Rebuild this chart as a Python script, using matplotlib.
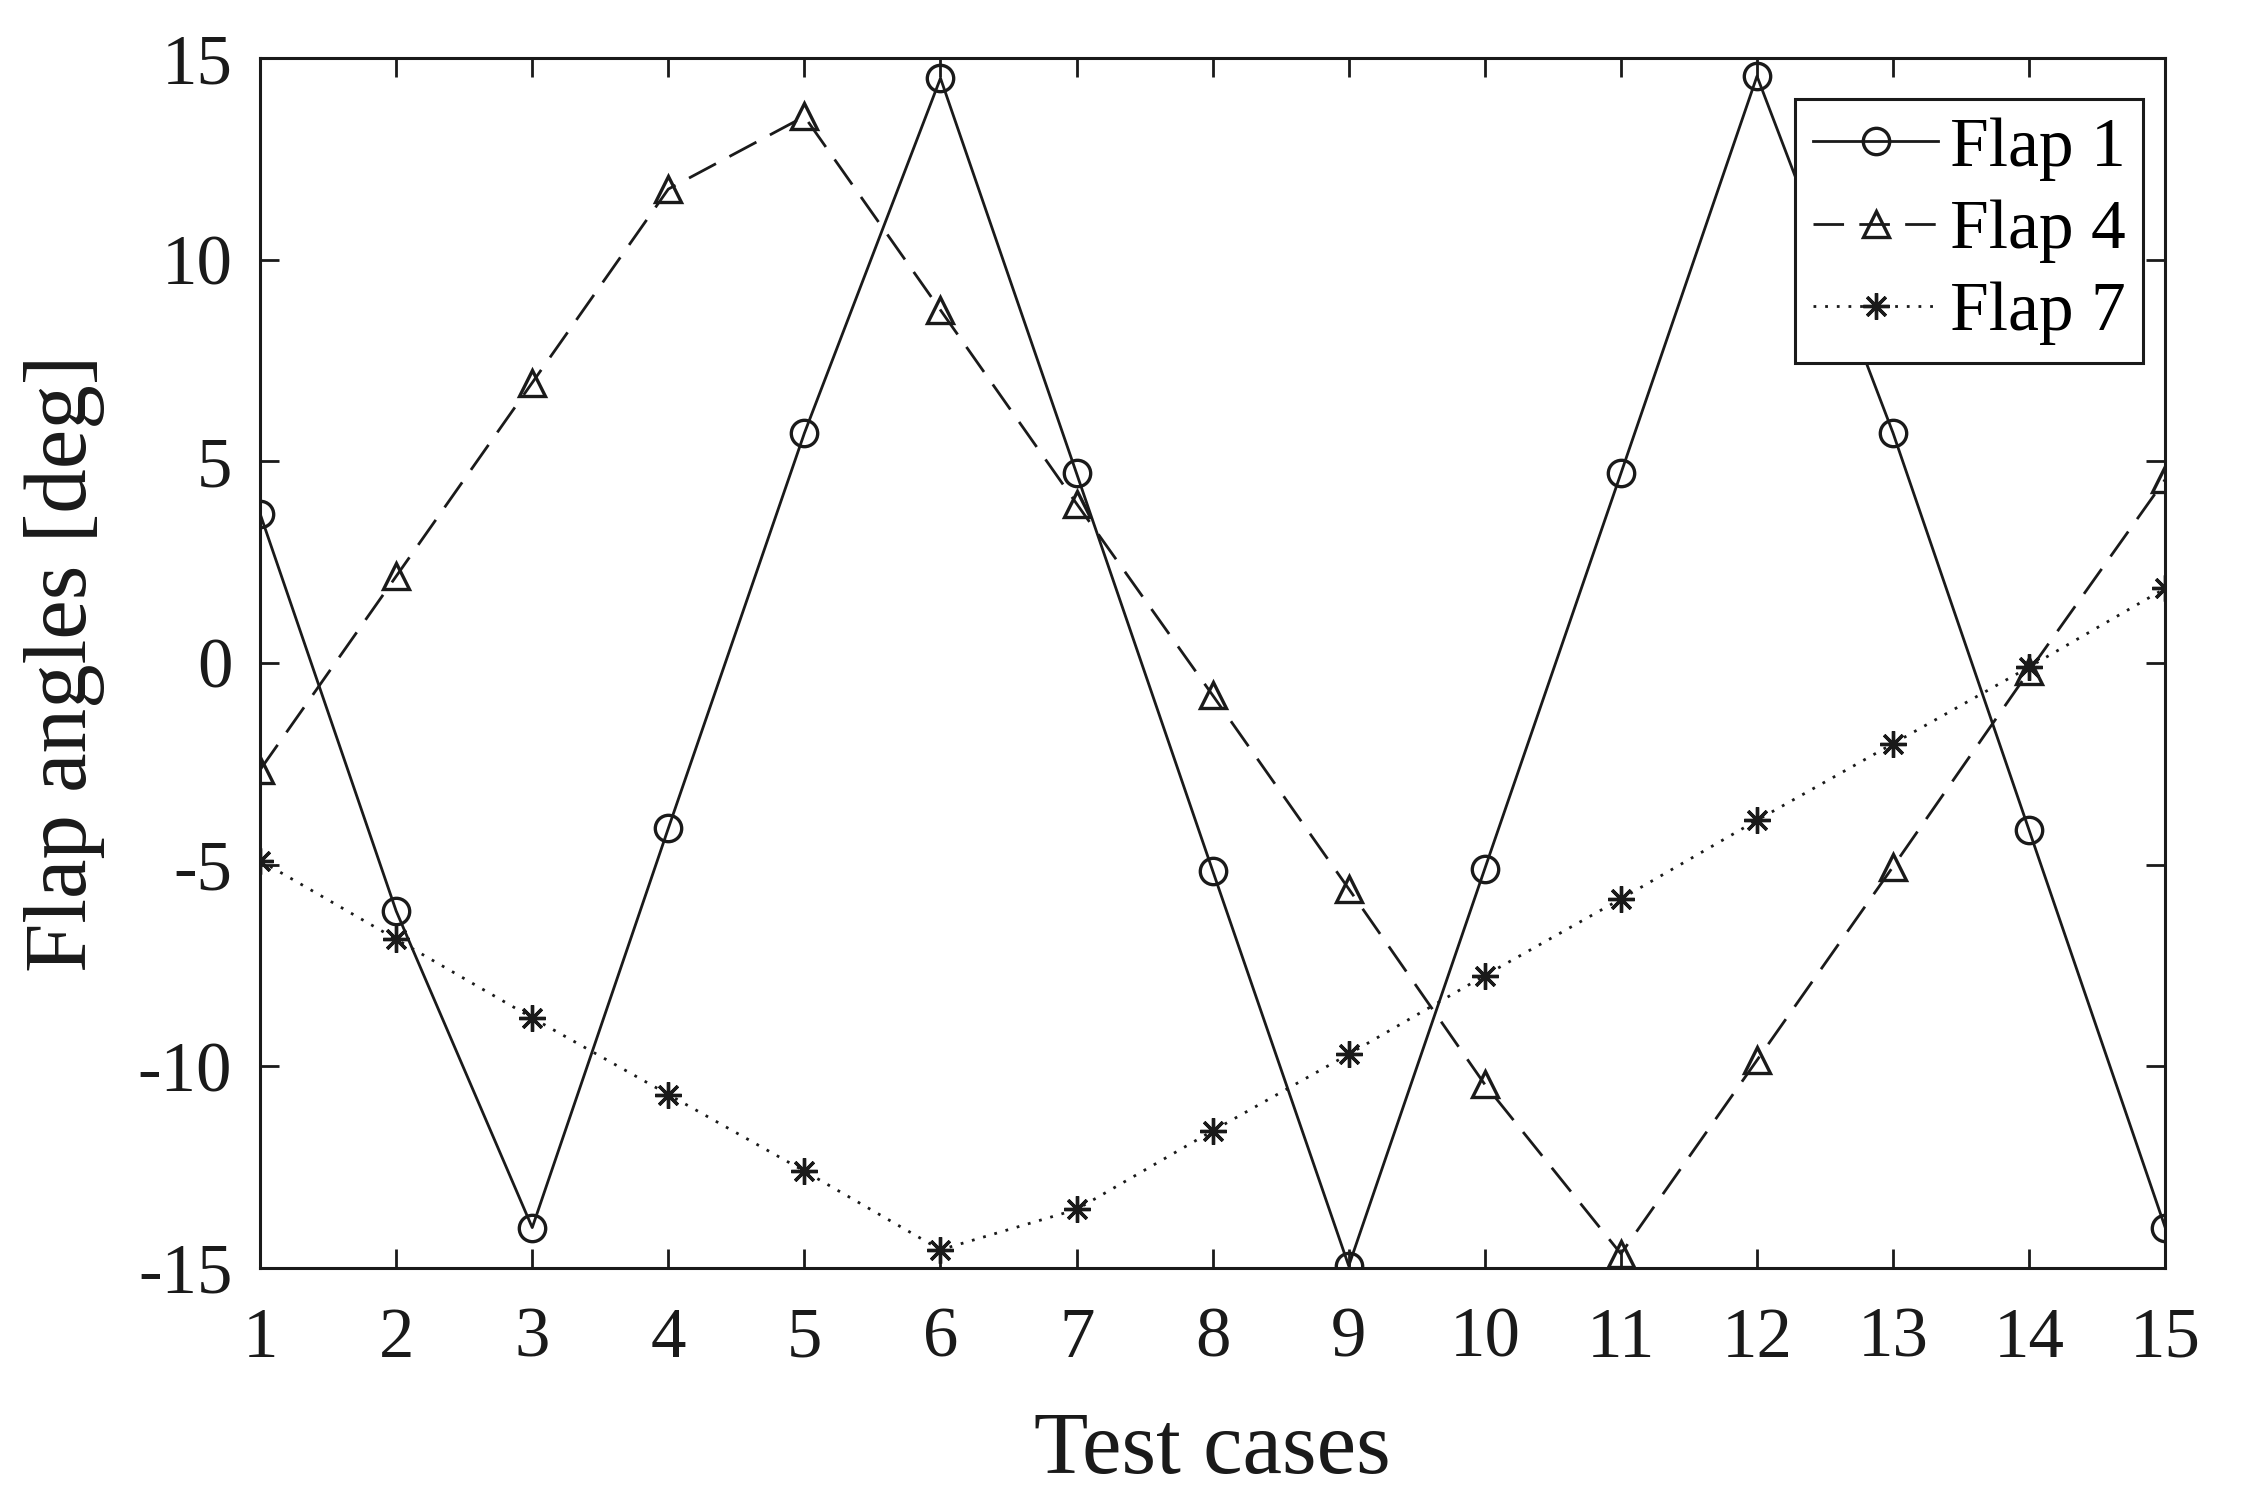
import matplotlib
matplotlib.use('Agg')
import matplotlib.pyplot as plt
import numpy as np

# test case numbers and flap angles [deg]
cases = np.arange(1, 16)
flap1 = [3.7, -6.15, -14.0, -4.1, 5.7, 14.5, 4.7, -5.15, -14.95, -5.1, 4.7, 14.55, 5.7, -4.15, -14.0]
flap4 = [-2.65, 2.15, 6.95, 11.75, 13.55, 8.75, 3.95, -0.8, -5.6, -10.45, -14.65, -9.85, -5.05, -0.2, 4.55]
flap7 = [-4.9, -6.85, -8.8, -10.7, -12.6, -14.55, -13.55, -11.6, -9.7, -7.75, -5.85, -3.9, -2.0, -0.1, 1.85]
tick_x = list(range(1, 16))
tick_y = [-15, -10, -5, 0, 5, 10, 15]

plt.rcParams['font.family'] = ['Liberation Serif', 'DejaVu Serif']
plt.rcParams['axes.linewidth'] = 2.2
plt.rcParams['axes.unicode_minus'] = False

fig = plt.figure(figsize=(22.44, 15.03), dpi=100)
ax = fig.add_axes([0.1159, 0.1564, 0.849, 0.805])

c = '#1a1a1a'
ms = 19
mew = 2.4
lw = 2.0
ax.plot(cases, flap1, '-', color=c, lw=lw, marker='o', ms=ms, mfc='none', mew=mew, label='Flap 1')
ax.plot(cases, flap4, color=c, lw=lw, ls=(0, (11, 5.5)), marker='^', ms=ms, mfc='none', mew=mew, label='Flap 4')
ax.plot(cases, flap7, color=c, lw=lw, ls=(0, (1, 3.2)), marker=(8, 2, 0), ms=ms, mew=mew, label='Flap 7')

ax.set_xlim(1, 15)
ax.set_ylim(-15, 15)
ax.set_xticks(tick_x)
ax.set_yticks(tick_y)
ax.tick_params(direction='in', length=14, width=2.0, top=True, right=True,
               labelsize=51, colors=c)
ax.tick_params(axis='x', pad=28)
ax.tick_params(axis='y', pad=20)
for s in ax.spines.values():
    s.set_color(c)

ax.set_xlabel('Test cases', fontsize=64, color=c)
ax.set_ylabel('Flap angles [deg]', fontsize=64, color=c)
ax.xaxis.set_label_coords(0.5, -0.152)
ax.xaxis.label.set_verticalalignment('center')
ax.yaxis.set_label_coords(-0.1029, 0.5)
ax.yaxis.label.set_verticalalignment('center')

leg = ax.legend(loc='upper right', bbox_to_anchor=(0.9885, 0.9661), borderaxespad=0,
                fontsize=50, handlelength=1.8, handletextpad=0.16,
                borderpad=0.26, labelspacing=0.27,
                fancybox=False, framealpha=1, edgecolor=c)
leg.get_frame().set_linewidth(2.2)

fig.savefig('out.png', dpi=100)
